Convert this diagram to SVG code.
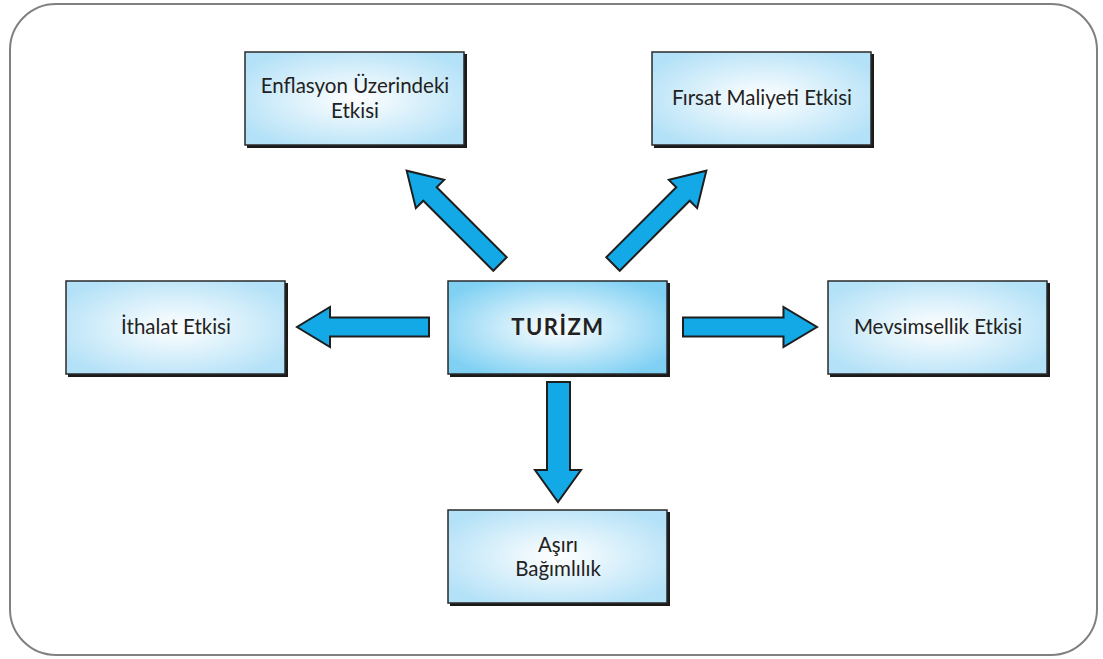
<svg xmlns="http://www.w3.org/2000/svg" width="1103" height="659" viewBox="0 0 1103 659">
<defs>
<radialGradient id="gb" cx="50%" cy="50%" r="60%">
<stop offset="0" stop-color="#ffffff"/>
<stop offset="1" stop-color="#b3e1f7"/>
</radialGradient>
<radialGradient id="gc" cx="50%" cy="50%" r="60%">
<stop offset="0" stop-color="#ffffff"/>
<stop offset="1" stop-color="#7fd0f3"/>
</radialGradient>
<path id="arr" d="M0,-9.5 L99,-9.5 L99,-20 L132,0 L99,20 L99,9.5 L0,9.5 Z"/>
</defs>
<style>
.sh{fill:#1a1a1a}
.bx{fill:url(#gb);stroke:#2a2a2a;stroke-width:1.5}
.bc{fill:url(#gc);stroke:#2a2a2a;stroke-width:1.5}
.t{font-family:"Lato","Liberation Sans",sans-serif;font-size:20.5px;fill:#222;text-anchor:middle}
.tb{font-family:"Lato","Liberation Sans",sans-serif;font-size:22px;font-weight:bold;fill:#222;text-anchor:middle;letter-spacing:1.5px}
.ar{fill:#12a9e6;stroke:#1e1e1e;stroke-width:2;stroke-linejoin:miter}
</style>
<rect x="10" y="4" width="1087" height="651" rx="46" ry="46" fill="#fff" stroke="#808080" stroke-width="2"/>
<g id="connectors">
<use href="#arr" class="ar" transform="translate(429,327) rotate(180)"/>
<use href="#arr" class="ar" transform="translate(683,327) scale(1.015,1)"/>
<path class="ar" d="M547,382 L570,382 L570,470 L581,470 L558,502 L535,470 L547,470 Z"/>
<use href="#arr" class="ar" transform="translate(500,264) rotate(225)"/>
<use href="#arr" class="ar" transform="translate(613,264) rotate(-45)"/>
</g>
<g id="n-enflasyon">
<rect class="sh" x="247" y="54" width="220" height="94"/>
<rect class="bx" x="245" y="52" width="219" height="93"/>
<text class="t" x="355" y="93">Enflasyon Üzerindeki</text>
<text class="t" x="355" y="118">Etkisi</text>
</g>
<g id="n-firsat">
<rect class="sh" x="654" y="54" width="220" height="94"/>
<rect class="bx" x="652" y="52" width="219" height="93"/>
<text class="t" x="762" y="105">Fırsat Maliyeti Etkisi</text>
</g>
<g id="n-ithalat">
<rect class="sh" x="68" y="283" width="220" height="94"/>
<rect class="bx" x="66" y="281" width="219" height="93"/>
<text class="t" x="176" y="334">İthalat Etkisi</text>
</g>
<g id="n-turizm">
<rect class="sh" x="450" y="283" width="220" height="94"/>
<rect class="bc" x="448" y="281" width="219" height="93"/>
<text class="tb" x="558" y="335">TURİZM</text>
</g>
<g id="n-mevsimsellik">
<rect class="sh" x="830" y="283" width="220" height="94"/>
<rect class="bx" x="828" y="281" width="219" height="93"/>
<text class="t" x="938" y="334">Mevsimsellik Etkisi</text>
</g>
<g id="n-asiri">
<rect class="sh" x="450" y="512" width="220" height="94"/>
<rect class="bx" x="448" y="510" width="219" height="93"/>
<text class="t" x="558" y="552">Aşırı</text>
<text class="t" x="558" y="576">Bağımlılık</text>
</g>
</svg>
